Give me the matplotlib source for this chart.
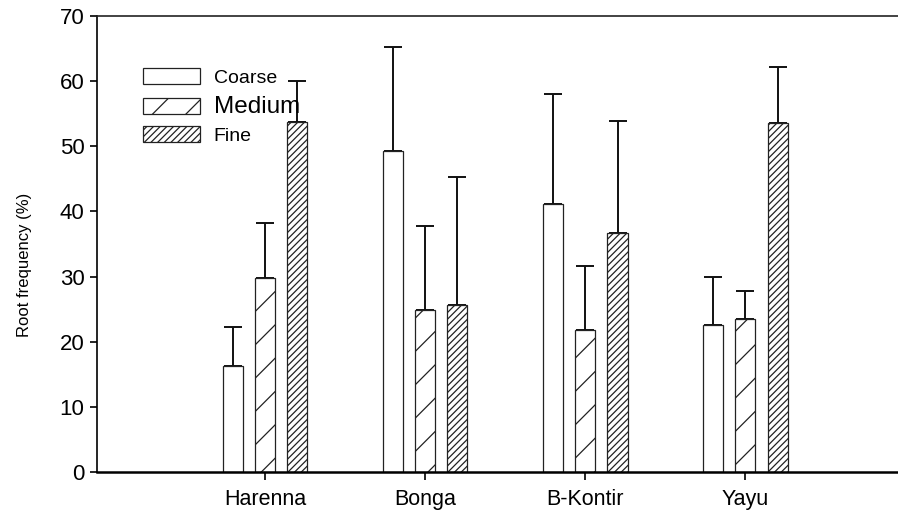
import matplotlib
matplotlib.use('Agg')
import matplotlib.pyplot as plt
import numpy as np

plt.rcParams['font.family'] = ['Liberation Sans', 'DejaVu Sans']
plt.rcParams['hatch.linewidth'] = 0.9

sites = ['Harenna', 'Bonga', 'B-Kontir', 'Yayu']
coarse = [16.2, 49.3, 41.2, 22.6]
coarse_err = [6.1, 15.9, 16.8, 7.4]
medium = [29.8, 24.9, 21.8, 23.5]
medium_err = [8.5, 12.9, 9.9, 4.3]
fine = [53.7, 25.7, 36.7, 53.6]
fine_err = [6.3, 19.6, 17.2, 8.5]

x = np.arange(1, len(sites) + 1)
w = 0.125
off = 0.203

fig = plt.figure(figsize=(8.98, 5.23), dpi=100)
ax = fig.add_axes([0.108, 0.0975, 0.892, 0.8719])

series = [(coarse, coarse_err, '', 'Coarse', -off),
          (medium, medium_err, '/', 'Medium', 0),
          (fine, fine_err, '/////', 'Fine', off)]
for vals, err, hatch, lab, dx in series:
    ax.bar(x + dx, vals, w, color='white', edgecolor='#222222', linewidth=0.9,
           hatch=hatch, label=lab, zorder=2)
    ax.errorbar(x + dx, vals, yerr=[np.zeros(len(err)), err], fmt='none',
                ecolor='#111111', elinewidth=1.4, capsize=6.5, capthick=1.4, zorder=1)

ax.set_xlim(-0.05, 4.956)
ax.set_ylim(0, 70)
ax.set_xticks(x)
ax.set_xticklabels(sites, fontsize=15.5)
ax.set_yticks(np.arange(0, 71, 10))
ax.tick_params(axis='y', labelsize=16, direction='out', length=5, width=1.2, pad=4)
ax.tick_params(axis='x', direction='out', length=6, width=1.2, pad=6)
ax.set_ylabel('Root frequency (%)', fontsize=12)
ax.yaxis.set_label_coords(-0.081, 0.455)
ax.spines['right'].set_visible(False)
ax.spines['bottom'].set_linewidth(1.8)
ax.spines['left'].set_linewidth(1.2)
ax.spines['top'].set_linewidth(1.2)
ax.spines['top'].set_color('#222222')

leg = ax.legend(loc='upper left', bbox_to_anchor=(0.048, 0.902), frameon=False,
                fontsize=14, handlelength=2.9, handleheight=0.85, labelspacing=0.45,
                handletextpad=0.72, borderaxespad=0)
leg.get_texts()[1].set_fontsize(17.5)

fig.savefig('out.png', dpi=100)
